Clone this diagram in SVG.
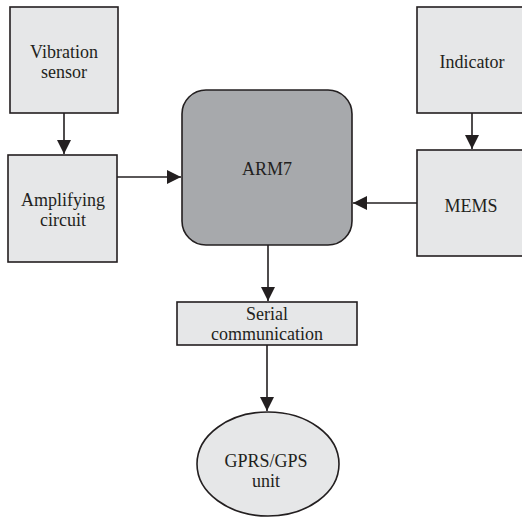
<svg xmlns="http://www.w3.org/2000/svg" width="522" height="519" viewBox="0 0 522 519">
<style>
.box{fill:#e6e7e8;stroke:#231f20;stroke-width:1.6}
.arm{fill:#a7a9ac;stroke:#231f20;stroke-width:1.6}
.t{font-family:"Liberation Serif","Times New Roman",serif;font-size:18px;fill:#231f20;text-anchor:middle}
.c{stroke:#231f20;stroke-width:1.6;fill:none}
</style>
<defs>
<marker id="ah" markerUnits="userSpaceOnUse" markerWidth="14" markerHeight="14" viewBox="0 0 14 14" refX="14" refY="7" orient="auto">
<path d="M0,0 L14,7 L0,14 Z" fill="#231f20"/>
</marker>
</defs>
<rect width="522" height="519" fill="#fff"/>
<g id="connectors">
<line class="c" x1="64" y1="113" x2="64" y2="154" marker-end="url(#ah)"/>
<line class="c" x1="117" y1="177" x2="181" y2="177" marker-end="url(#ah)"/>
<line class="c" x1="417" y1="203" x2="353" y2="203" marker-end="url(#ah)"/>
<line class="c" x1="472" y1="113" x2="472" y2="149" marker-end="url(#ah)"/>
<line class="c" x1="268" y1="245" x2="268" y2="301" marker-end="url(#ah)"/>
<line class="c" x1="267" y1="345" x2="267" y2="411" marker-end="url(#ah)"/>
</g>
<g id="vibration">
<rect class="box" x="10" y="7" width="108" height="106"/>
<text class="t" x="64" y="58">Vibration</text>
<text class="t" x="64" y="78">sensor</text>
</g>
<g id="amplifying">
<rect class="box" x="8" y="155" width="109" height="107"/>
<text class="t" x="63" y="206">Amplifying</text>
<text class="t" x="63" y="226">circuit</text>
</g>
<g id="arm7">
<rect class="arm" x="182" y="90" width="170" height="155" rx="24"/>
<text class="t" x="267" y="175">ARM7</text>
</g>
<g id="indicator">
<rect class="box" x="417" y="7" width="110" height="106"/>
<text class="t" x="472" y="68">Indicator</text>
</g>
<g id="mems">
<rect class="box" x="417" y="150" width="110" height="106"/>
<text class="t" x="471" y="212">MEMS</text>
</g>
<g id="serial">
<rect class="box" x="177" y="302" width="180" height="43"/>
<text class="t" x="267" y="320">Serial</text>
<text class="t" x="267" y="340">communication</text>
</g>
<g id="gprs">
<ellipse class="box" cx="268" cy="464" rx="71" ry="52"/>
<text class="t" x="266" y="467">GPRS/GPS</text>
<text class="t" x="266" y="487">unit</text>
</g>
</svg>
